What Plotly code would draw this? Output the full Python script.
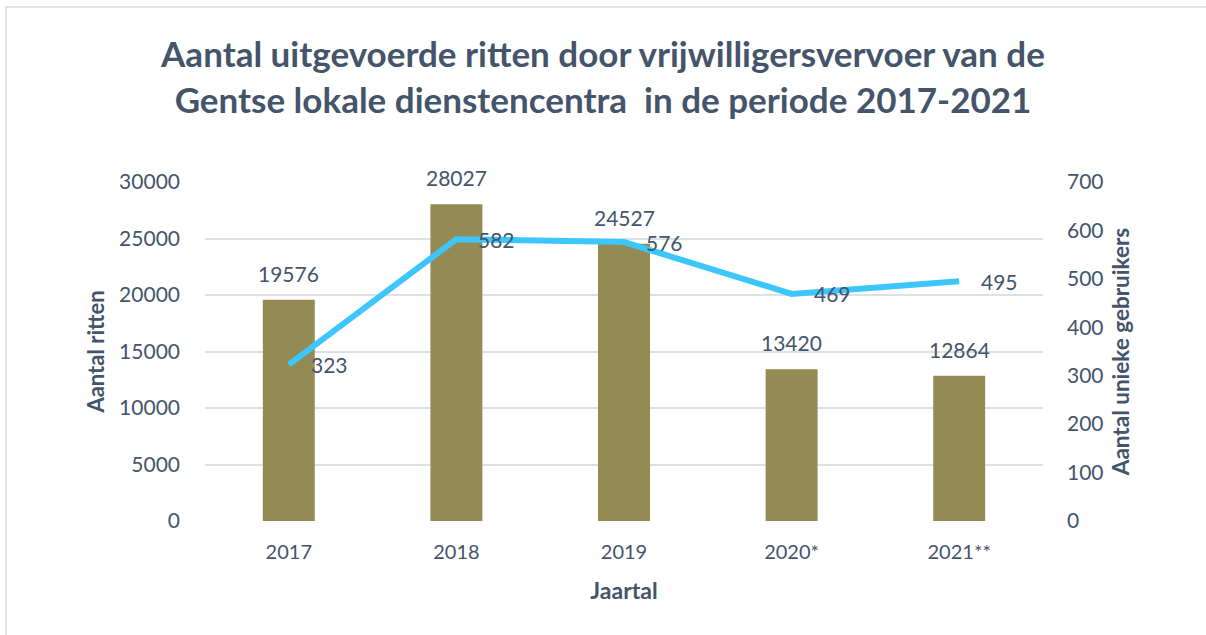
import plotly.graph_objects as go

categories = ["2017", "2018", "2019", "2020*", "2021**"]
ritten = [19576, 28027, 24527, 13420, 12864]
gebruikers = [323, 582, 576, 469, 495]
y1_ticks = [0, 5000, 10000, 15000, 20000, 25000, 30000]
y2_ticks = [0, 100, 200, 300, 400, 500, 600, 700]

TXT = "#44546A"
FONT = "Lato"
W, H = 1206, 635
L, R, T, B = 205, 163, 182, 114
pw, ph = W - L - R, H - T - B

fig = go.Figure()
fig.add_trace(go.Bar(x=categories, y=ritten, marker_color="#948A54",
                     marker_line_width=0, name="Aantal ritten", yaxis="y"))
fig.add_trace(go.Scatter(x=categories, y=gebruikers, mode="lines",
                         line=dict(color="#3DC6FC", width=6),
                         name="Aantal unieke gebruikers", yaxis="y2"))

ann = []
for i, v in enumerate(ritten):
    ann.append(dict(x=i, y=v, xref="x", yref="y", text=str(v), showarrow=False,
                    yanchor="bottom", yshift=12, font=dict(family=FONT, size=21, color=TXT)))
for i, v in enumerate(gebruikers):
    ann.append(dict(x=i, y=v, xref="x", yref="y2", text=str(v), showarrow=False,
                    xanchor="left", xshift=20, yanchor="middle",
                    font=dict(family=FONT, size=21, color=TXT)))

def px_x(p):
    return (p - L) / pw

def px_y(p):
    return (H - B - p) / ph

fig.update_layout(
    width=W, height=H,
    margin=dict(l=L, r=R, t=T, b=B, autoexpand=False),
    paper_bgcolor="white", plot_bgcolor="white",
    showlegend=False,
    bargap=0.69,
    title=dict(text="Aantal uitgevoerde ritten door vrijwilligersvervoer van de<br>Gentse lokale dienstencentra  in de periode 2017-2021",
               x=0.5, xanchor="center", xref="container",
               y=1 - 67 / H, yanchor="top", yref="container",
               font=dict(family=FONT, size=35, color=TXT, weight="bold")),
    font=dict(family=FONT, color=TXT),
    xaxis=dict(type="category", range=[-0.5, len(categories) - 0.5],
               showgrid=False, showline=False, zeroline=False, ticks="",
               automargin=False, ticklabelstandoff=17,
               tickfont=dict(family=FONT, size=20, color=TXT),
               title=dict(text="<b>Jaartal</b>", font=dict(family=FONT, size=23, color=TXT), standoff=20)),
    yaxis=dict(range=[0, 30000], tickvals=y1_ticks, tickformat="d", showgrid=True,
               automargin=False,
               gridcolor="#DDE1E6", gridwidth=1.5, zeroline=False, showline=False,
               tickfont=dict(family=FONT, size=21, color=TXT), ticklabelstandoff=24,
               title=dict(text="<b>Aantal ritten</b>", font=dict(family=FONT, size=22, color=TXT), standoff=8)),
    yaxis2=dict(range=[0, 700], tickvals=y2_ticks, tickformat="d", overlaying="y", side="right",
                automargin=False,
                showgrid=False, zeroline=False, showline=False,
                tickfont=dict(family=FONT, size=21, color=TXT), ticklabelstandoff=23,
                title=dict(text="<b>Aantal unieke gebruikers</b>", font=dict(family=FONT, size=22.5, color=TXT), standoff=10)),
    annotations=ann,
    shapes=[dict(type="rect", xref="paper", yref="paper",
                 x0=px_x(6), x1=px_x(1212), y0=px_y(642), y1=px_y(7),
                 line=dict(color="#D9D9D9", width=1.5), fillcolor="rgba(0,0,0,0)", layer="below")],
)

fig.write_html("out.html", config={"displayModeBar": False},
               post_script="document.body.style.margin='0px';")
